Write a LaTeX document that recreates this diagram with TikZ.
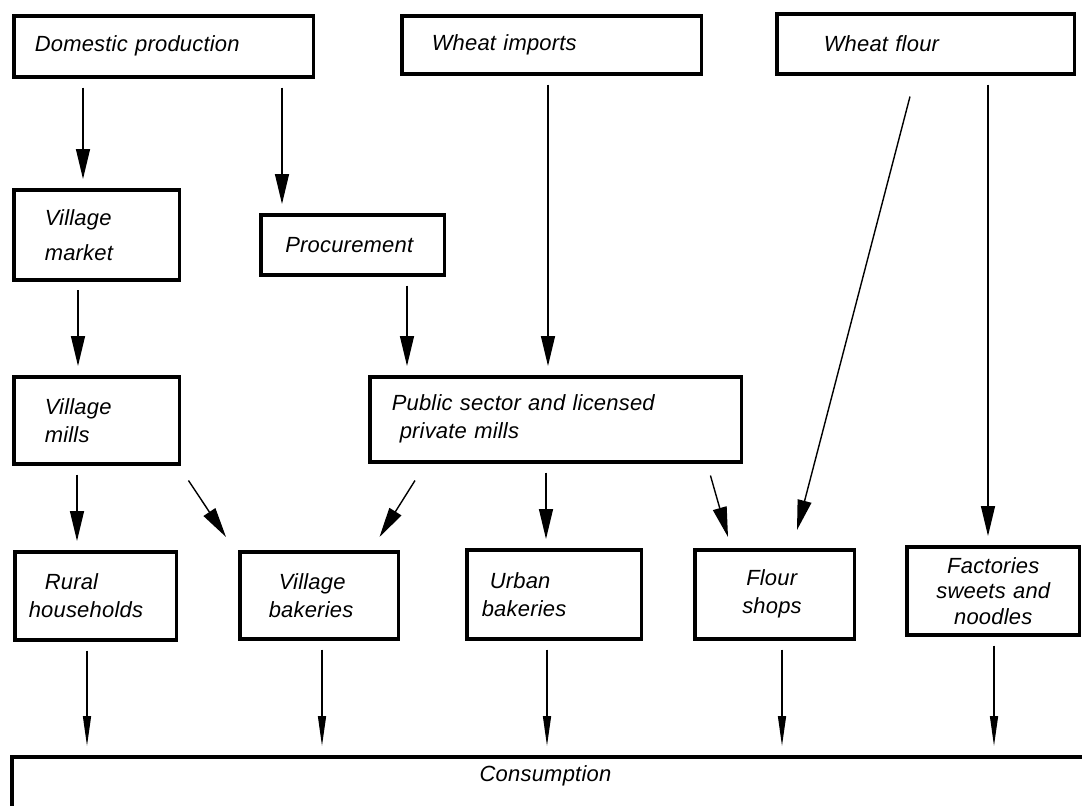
\documentclass[tikz,border=0pt]{standalone}
\usepackage{fontspec}
\newfontfamily\flowfont{Liberation Sans}[LetterSpace=1]
\usetikzlibrary{arrows.meta,calc}

\begin{document}
\begin{tikzpicture}[x=0.02cm,y=-0.02cm,
  box/.style={draw,line width=2pt,anchor=north west,inner ysep=0pt,align=left,
    font=\flowfont\itshape\fontsize{12.5}{16}\selectfont},
  arr/.style={line width=0.8pt,-{Triangle[length=0.6cm,width=0.28cm]}},
  thin/.style={-{Triangle[length=0.6cm,width=0.16cm]}},
  gap/.style={shorten <=0.18cm,shorten >=0.18cm}]
  \useasboundingbox (0,0) rectangle (1082,805);
  \clip (0,0) rectangle (1082,805);
  % sources
  \node[box,minimum height=1.22cm,text width=5.16cm,inner xsep=0.42cm] (dom) at (12,14) {Domestic production};
  \node[box,minimum height=1.16cm,text width=4.8cm,inner xsep=0.6cm] (imp) at (400,14) {Wheat imports};
  \node[box,minimum height=1.2cm,text width=4.08cm,inner xsep=0.94cm] (flr) at (775,12) {Wheat flour};
  % trade and mills
  \node[box,minimum height=1.8cm,text width=2.08cm,inner xsep=0.62cm,
    font=\flowfont\itshape\fontsize{12.5}{20}\selectfont] (vmk) at (12,188) {Village\\market};
  \node[box,minimum height=1.2cm,text width=2.7cm,inner xsep=0.49cm] (prc) at (259,213) {Procurement};
  \node[box,minimum height=1.74cm,text width=2.08cm,inner xsep=0.62cm] (vml) at (12,375) {Village\\mills};
  \node[box,minimum height=1.7cm,text width=6.56cm,inner xsep=0.44cm] (pub) at (368,375)
    {Public sector and licensed\\\hspace*{0.16cm}private mills};
  % outlets
  \node[box,minimum height=1.76cm,text width=2.68cm,inner xsep=0.28cm] (rur) at (13,550)
    {\hspace*{0.32cm}Rural\\households};
  \node[box,minimum height=1.74cm,text width=2.02cm,inner xsep=0.58cm] (vbk) at (238,550)
    {\hspace*{0.2cm}Village\\bakeries};
  \node[box,minimum height=1.78cm,text width=2.9cm,inner xsep=0.3cm] (urb) at (465,548)
    {\hspace*{0.16cm}Urban\\bakeries};
  \node[box,minimum height=1.78cm,text width=1.3cm,inner xsep=0.95cm] (shp) at (693,548)
    {\hspace*{0.08cm}Flour\\shops};
  \node[box,minimum height=1.76cm,text width=3.06cm,inner xsep=0.2cm,align=center,
    font=\flowfont\itshape\fontsize{12.5}{14.5}\selectfont] (fac) at (905,545)
    {Factories\\sweets and\\noodles};
  \node[box,text width=3.08cm,inner xsep=9.36cm,text height=0.5cm,text depth=1.6cm] (con) at (10,755) {Consumption};
  % flows
  \draw[arr,gap] (83,0 |- dom.south) -- (83,0 |- vmk.north);
  \draw[arr,gap] (282,0 |- dom.south) -- (282,0 |- prc.north);
  \draw[arr,gap] (548,0 |- imp.south) -- (548,0 |- pub.north);
  \draw[arr,gap] (988,0 |- flr.south) -- (988,0 |- fac.north);
  \draw[arr] ($(flr.south west)+(135,21)$) -- ($(shp.north west)+(104,-18)$);
  \draw[arr,gap] (78,0 |- vmk.south) -- (78,0 |- vml.north);
  \draw[arr,gap] (407,0 |- prc.south) -- (407,0 |- pub.north);
  \draw[arr,gap] (77,0 |- vml.south) -- (77,0 |- rur.north);
  \draw[arr] ($(vml.south east)+(7,15)$) -- ($(vbk.north west)+(-12,-13)$);
  \draw[arr] ($(pub.south west)+(47,17)$) -- ($(vbk.north east)+(-21,-13)$);
  \draw[arr,gap] (546,0 |- pub.south) -- (546,0 |- urb.north);
  \draw[arr] ($(pub.south east)+(-33,12)$) -- ($(shp.north west)+(35,-11)$);
  \foreach \n/\x in {rur/87,vbk/322,urb/547,shp/782,fac/994}
    \draw[arr,thin,gap] (\x,0 |- \n.south) -- (\x,0 |- con.north);
\end{tikzpicture}
\end{document}
